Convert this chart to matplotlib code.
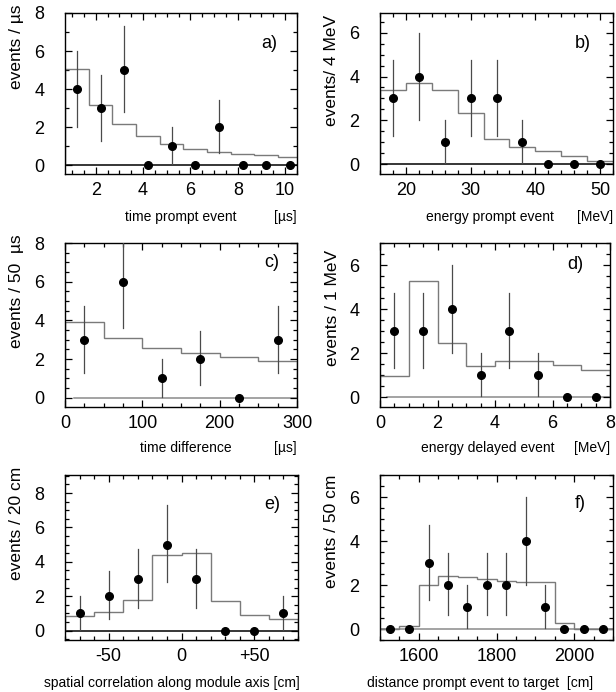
import matplotlib
matplotlib.use("Agg")
import matplotlib.pyplot as plt
from matplotlib.ticker import MultipleLocator, FuncFormatter

plt.rcParams["font.family"] = ["Liberation Sans", "DejaVu Sans"]

# (a) time prompt event [us]
a_edges = [0.7, 1.7, 2.7, 3.7, 4.7, 5.7, 6.7, 7.7, 8.7, 9.7, 10.7]
a_mc = [5.05, 3.18, 2.18, 1.53, 1.12, 0.86, 0.70, 0.60, 0.54, 0.46]
a_x = [1.2, 2.2, 3.2, 4.2, 5.2, 6.2, 7.2, 8.2, 9.2, 10.2]
a_n = [4, 3, 5, 0, 1, 0, 2, 0, 0, 0]

# (b) energy prompt event [MeV]
b_edges = [16, 20, 24, 28, 32, 36, 40, 44, 48, 52]
b_mc = [3.38, 3.71, 3.38, 2.32, 1.15, 0.78, 0.58, 0.39, 0.16]
b_x = [18, 22, 26, 30, 34, 38, 42, 46, 50]
b_n = [3, 4, 1, 3, 3, 1, 0, 0, 0]

# (c) time difference [us]
c_edges = [0, 50, 100, 150, 200, 250, 300]
c_mc = [3.92, 3.1, 2.55, 2.3, 2.1, 1.9]
c_x = [25, 75, 125, 175, 225, 275]
c_n = [3, 6, 1, 2, 0, 3]

# (d) energy delayed event [MeV]
d_edges = [0, 1, 2, 3, 4, 5, 6, 7, 8]
d_mc = [0.94, 5.27, 2.46, 1.40, 1.62, 1.66, 1.44, 1.22]
d_x = [0.5, 1.5, 2.5, 3.5, 4.5, 5.5, 6.5, 7.5]
d_n = [3, 3, 4, 1, 3, 1, 0, 0]

# (e) spatial correlation along module axis [cm]
e_edges = [-80, -60, -40, -20, 0, 20, 40, 60, 80]
e_mc = [0.83, 1.07, 1.8, 4.42, 4.52, 1.71, 0.93, 0.68]
e_x = [-70, -50, -30, -10, 10, 30, 50, 70]
e_n = [1, 2, 3, 5, 3, 0, 0, 1]

# (f) distance prompt event to target [cm]
f_edges = [1500, 1550, 1600, 1650, 1700, 1750, 1800, 1850, 1900, 1950, 2000, 2050, 2100]
f_mc = [0.0, 0.15, 2.0, 2.4, 2.35, 2.27, 2.18, 2.12, 2.12, 0.29, 0.0, 0.0]
f_x = [1525, 1575, 1625, 1675, 1725, 1775, 1825, 1875, 1925, 1975, 2025, 2075]
f_n = [0, 0, 3, 2, 1, 2, 2, 4, 1, 0, 0, 0]

err_lo = {1: 0.05, 2: 0.65, 3: 1.3, 4: 2.0, 5: 2.8, 6: 3.6}
err_hi = {1: 2.0, 2: 3.45, 3: 4.75, 4: 6.0, 5: 7.3, 6: 8.5}

W, H = 616, 692
fig = plt.figure(figsize=(W / 100, H / 100), dpi=100)


def box(l, t, r, b):
    return [l / W, 1 - b / H, (r - l) / W, (b - t) / H]


def panel(rect, edges, mc, x, n, xlim, ylim, xmaj, xmin, ymaj, ymin,
          ylabel, ytop, tag, tagpos, zero_col, zero_from=None, xfmt=None):
    ax = fig.add_axes(box(*rect))
    ax.axhline(0, xmin=0 if zero_from is None else (zero_from - xlim[0]) / (xlim[1] - xlim[0]),
               color=zero_col, lw=1.1, zorder=1)
    ax.stairs(mc, edges, color="#7a7a7a", lw=1.0, zorder=2)
    for xi, ni in zip(x, n):
        if ni > 0:
            ax.plot([xi, xi], [err_lo[ni], err_hi[ni]], color="#4a4a4a", lw=0.9, zorder=3)
    ax.plot(x, n, "o", color="black", ms=5.5, zorder=4)
    ax.set_xlim(*xlim)
    ax.set_ylim(*ylim)
    ax.xaxis.set_major_locator(MultipleLocator(xmaj))
    ax.xaxis.set_minor_locator(MultipleLocator(xmin))
    ax.yaxis.set_major_locator(MultipleLocator(ymaj))
    ax.yaxis.set_minor_locator(MultipleLocator(ymin))
    if xfmt:
        ax.xaxis.set_major_formatter(FuncFormatter(xfmt))
    ax.tick_params(which="both", direction="in", top=True, right=True, width=0.9)
    ax.tick_params(which="major", length=5, labelsize=13)
    ax.tick_params(axis="x", which="major", pad=6)
    ax.tick_params(axis="y", which="major", pad=15)
    ax.tick_params(which="minor", length=2.6)
    for s in ax.spines.values():
        s.set_linewidth(1.0)
    ax.set_ylabel(ylabel, fontsize=12.5, ha="right")
    ax.yaxis.set_label_coords(-0.175, ytop)
    ax.text(tagpos[0], tagpos[1], tag, transform=ax.transAxes, fontsize=13,
            ha="center", va="center")
    return ax


def sub_label(ax, text, unit, xc, y):
    ax.text(xc, y, text, transform=ax.transAxes, fontsize=10, ha="center", va="center")
    ax.text(1.0, y, unit, transform=ax.transAxes, fontsize=10, ha="right", va="center")


ax = panel((65, 13, 297, 174), a_edges, a_mc, a_x, a_n, (0.7, 10.5), (-0.45, 8.0),
           2, 0.5, 2, 1, "events / µs", 1.05, "a)", (0.88, 0.81), "black")
sub_label(ax, "time prompt event", "[µs]", 0.5, -0.27)

ax = panel((380, 13, 613, 174), b_edges, b_mc, b_x, b_n, (16, 52), (-0.45, 6.9),
           10, 2, 2, 0.5, "events/ 4 MeV", 0.99, "b)", (0.87, 0.81), "black")
sub_label(ax, "energy prompt event", "[MeV]", 0.47, -0.27)

ax = panel((65, 243, 297, 407), c_edges, c_mc, c_x, c_n, (0, 300), (-0.48, 8.0),
           100, 25, 2, 0.5, "events / 50  µs", 1.05, "c)", (0.89, 0.88), "#8a8a8a",
           zero_from=12)
sub_label(ax, "time difference", "[µs]", 0.52, -0.25)

ax = panel((380, 243, 610, 407), d_edges, d_mc, d_x, d_n, (0, 8), (-0.45, 7.0),
           2, 0.5, 2, 0.5, "events / 1 MeV", 0.96, "d)", (0.85, 0.87), "#8a8a8a",
           zero_from=0.25)
sub_label(ax, "energy delayed event", "[MeV]", 0.47, -0.25)

ax = panel((65, 475, 298, 640), e_edges, e_mc, e_x, e_n, (-80, 80), (-0.55, 9.05),
           50, 10, 2, 0.5, "events / 20 cm", 1.05, "e)", (0.89, 0.82), "black",
           xfmt=lambda v, p: "+%d" % v if v > 0 else "%d" % v)
ax.text(0.46, -0.26, "spatial correlation along module axis [cm]", transform=ax.transAxes,
        fontsize=10, ha="center", va="center")

ax = panel((380, 475, 613, 640), f_edges, f_mc, f_x, f_n, (1500, 2100), (-0.5, 7.0),
           200, 50, 2, 0.5, "events / 50 cm", 1.0, "f)", (0.86, 0.83), "#8a8a8a")
ax.text(0.43, -0.26, "distance prompt event to target  [cm]", transform=ax.transAxes,
        fontsize=10, ha="center", va="center")

fig.savefig("out.png", dpi=100)
